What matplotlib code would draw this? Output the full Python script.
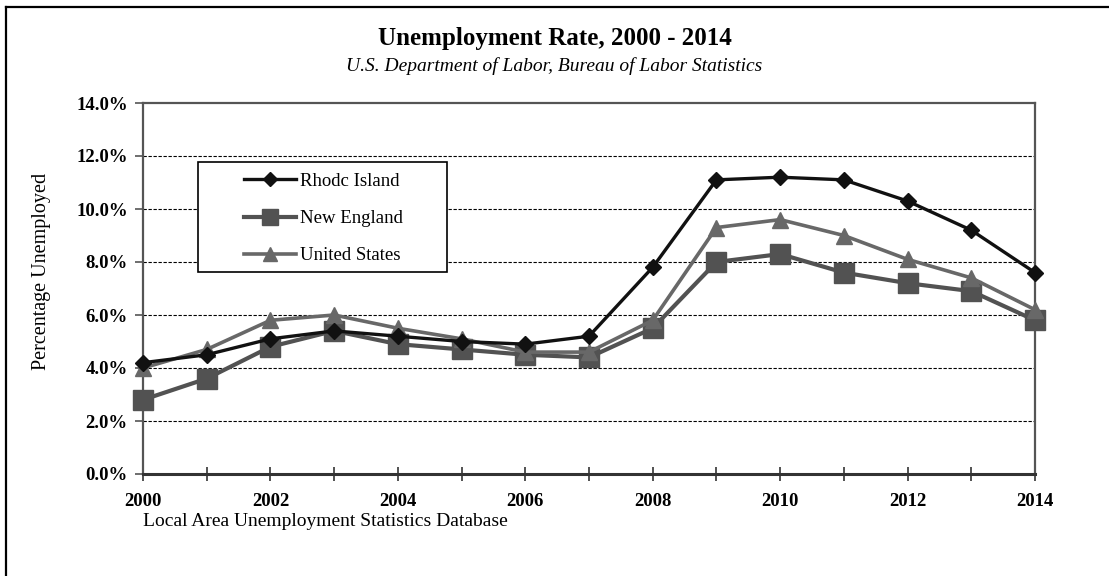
import matplotlib
matplotlib.use("Agg")
import matplotlib.pyplot as plt
from matplotlib.lines import Line2D
from matplotlib.patches import Rectangle
from matplotlib.ticker import FuncFormatter, MultipleLocator

years = list(range(2000, 2015))
rhode_island = [4.2, 4.5, 5.1, 5.4, 5.2, 5.0, 4.9, 5.2, 7.8, 11.1, 11.2, 11.1, 10.3, 9.2, 7.6]
new_england = [2.8, 3.6, 4.8, 5.4, 4.9, 4.7, 4.5, 4.4, 5.5, 8.0, 8.3, 7.6, 7.2, 6.9, 5.8]
united_states = [4.0, 4.7, 5.8, 6.0, 5.5, 5.1, 4.6, 4.6, 5.8, 9.3, 9.6, 9.0, 8.1, 7.4, 6.2]
series_names = ["Rhodc Island", "New England", "United States"]
year_ticks = list(range(2000, 2015, 2))

plt.rcParams["font.family"] = ["Liberation Serif", "DejaVu Serif"]

W, H = 1109, 576
fig = plt.figure(figsize=(W / 100, H / 100), dpi=100)
fig.patch.set_facecolor("white")


def fx(px):
    return px / W


def fy(py):
    return 1 - py / H


# outer frame (left and top edges visible)
fig.add_artist(Line2D([fx(6), fx(6)], [0, fy(7)], transform=fig.transFigure,
                      color="black", lw=1.6))
fig.add_artist(Line2D([fx(6), 1], [fy(7), fy(7)], transform=fig.transFigure,
                      color="black", lw=1.6))

ax = fig.add_axes([fx(143), fy(474), fx(1035 - 143), (474 - 103) / H])

ax.plot(years, rhode_island, color="#111111", lw=2.4, marker="D", ms=8,
        label=series_names[0], zorder=5, clip_on=False)
ax.plot(years, new_england, color="#525252", lw=3.0, marker="s", ms=14,
        label=series_names[1], zorder=3, clip_on=False)
ax.plot(years, united_states, color="#686868", lw=2.6, marker="^", ms=12,
        label=series_names[2], zorder=4, clip_on=False)

ax.set_xlim(2000, 2014)
ax.set_ylim(0, 14)
ax.yaxis.set_major_locator(MultipleLocator(2))
ax.yaxis.set_major_formatter(FuncFormatter(lambda v, p: f"{v:.1f}%"))
ax.set_xticks(year_ticks)
ax.xaxis.set_minor_locator(MultipleLocator(1))

for y in range(2, 14, 2):
    ax.axhline(y, color="black", lw=0.8, ls=(0, (3, 1.5)), zorder=1)

for side in ["left", "right", "top"]:
    ax.spines[side].set_color("#555555")
    ax.spines[side].set_linewidth(1.6)
ax.spines["bottom"].set_color("#333333")
ax.spines["bottom"].set_linewidth(2.2)

ax.tick_params(axis="x", which="both", direction="inout", length=10, width=1.2,
               color="#333333", pad=9)
ax.tick_params(axis="y", direction="out", length=6, width=1.2, color="#555555", pad=5)
for lab in ax.get_xticklabels() + ax.get_yticklabels():
    lab.set_fontweight("bold")
    lab.set_fontsize(13.5)

ax.set_ylabel("Percentage Unemployed", fontsize=14.5)
ax.yaxis.set_label_coords(fx(51 - 143) / fx(1035 - 143), (474 - 271) / (474 - 103))

fig.text(0.5, fy(38), "Unemployment Rate, 2000 - 2014", ha="center", va="center",
         fontsize=18, fontweight="bold")
fig.text(0.5, fy(66), "U.S. Department of Labor, Bureau of Labor Statistics",
         ha="center", va="center", fontsize=14, style="italic")
fig.text(fx(143), fy(522), "Local Area Unemployment Statistics Database",
         ha="left", va="center", fontsize=14)

# legend box
fig.add_artist(Rectangle((fx(198), fy(272)), fx(447 - 198), (272 - 162) / H,
                         transform=fig.transFigure, fill=True, facecolor="white",
                         edgecolor="black", lw=1.2, zorder=6))
leg = fig.legend(loc="center left", bbox_to_anchor=(fx(244), fy(218.5)),
                 bbox_transform=fig.transFigure, frameon=False, fontsize=13.5,
                 handlelength=2.75, labelspacing=1.07, borderpad=0,
                 handletextpad=0.25, borderaxespad=0, markerscale=0.85)
leg.set_zorder(7)

fig.savefig("out.png", dpi=100, facecolor="white")
